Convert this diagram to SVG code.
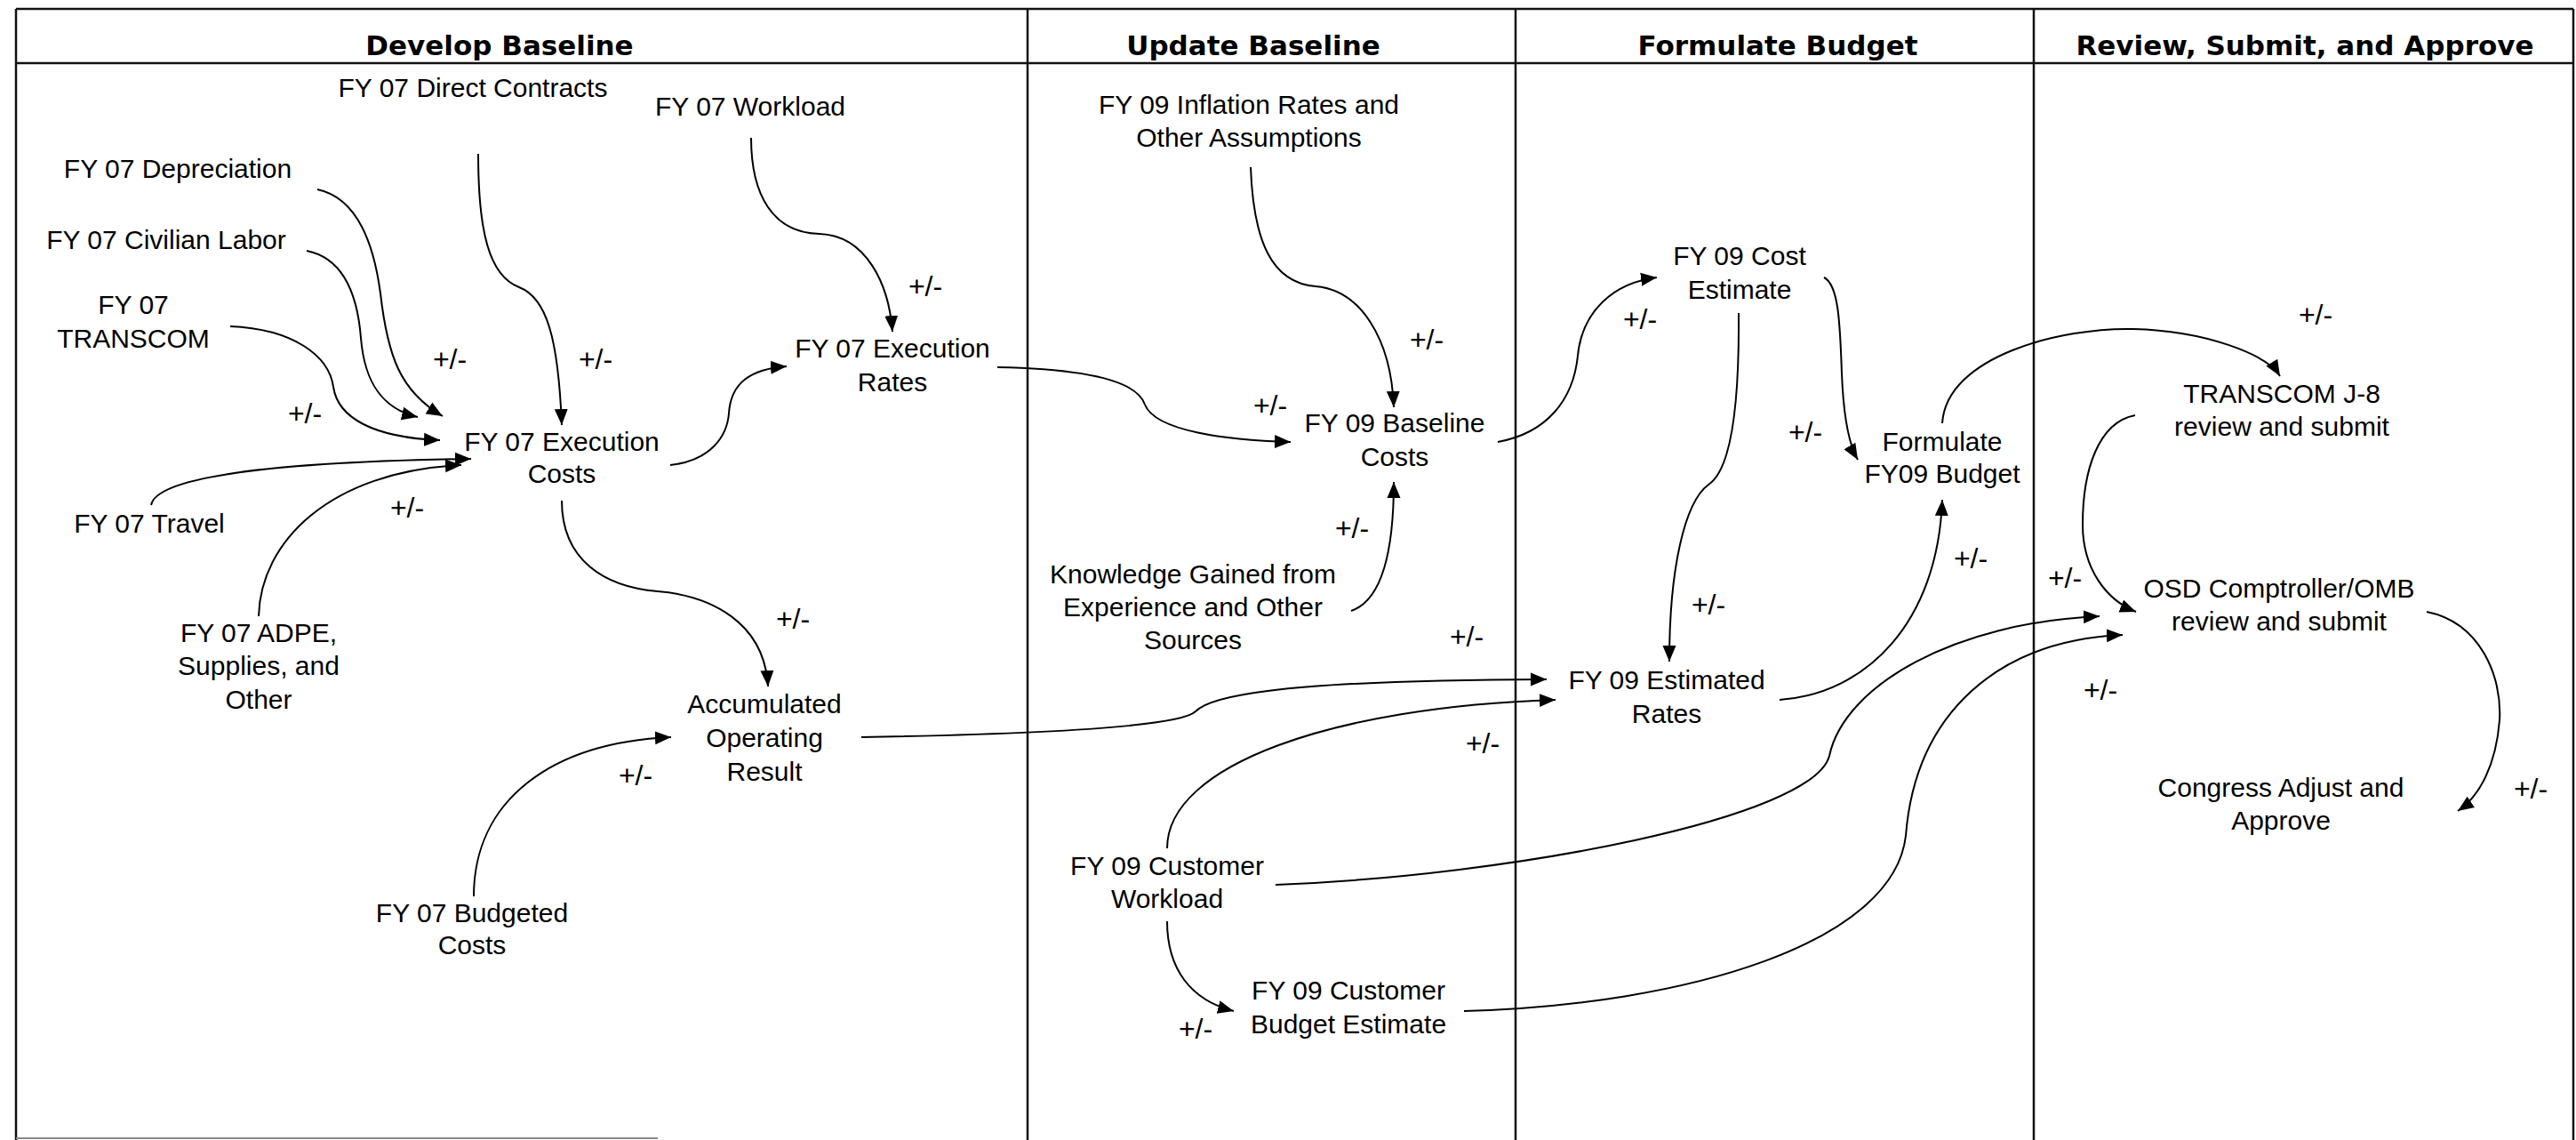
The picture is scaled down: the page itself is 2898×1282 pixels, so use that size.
<svg xmlns="http://www.w3.org/2000/svg" width="2898" height="1282" viewBox="0 0 2898 1282">
<style>
.t{font-family:"Liberation Sans",Arial,sans-serif;font-size:30px;fill:#000;text-anchor:middle}
.pm{font-family:"Liberation Sans",Arial,sans-serif;font-size:32px;fill:#000;text-anchor:middle}
.h{font-family:"DejaVu Sans",Verdana,sans-serif;font-weight:bold;font-size:31px;fill:#000;text-anchor:middle}
.f{stroke:#111;stroke-width:2.5;fill:none}
.c{fill:none;stroke:#000;stroke-width:2;marker-end:url(#ah)}
</style>
<defs>
<marker id="ah" markerUnits="userSpaceOnUse" markerWidth="20" markerHeight="16" refX="18" refY="8" orient="auto" viewBox="0 0 20 16">
<path d="M0,0.5 L18,8 L0,15.5 z" fill="#000"/>
</marker>
</defs>
<rect width="2898" height="1282" fill="#fff"/>
<g id="frame">
<line class="f" x1="18" y1="10" x2="2895" y2="10"/>
<line class="f" x1="18" y1="71" x2="2895" y2="71"/>
<line class="f" x1="18" y1="10" x2="18" y2="1282"/>
<line class="f" x1="1156" y1="10" x2="1156" y2="1282"/>
<line class="f" x1="1705" y1="10" x2="1705" y2="1282"/>
<line class="f" x1="2288" y1="10" x2="2288" y2="1282"/>
<line class="f" x1="2895" y1="10" x2="2895" y2="1282"/>
<line x1="18" y1="1280" x2="740" y2="1280" stroke="#888" stroke-width="2"/>
<text class="h" x="562" y="62">Develop Baseline</text>
<text class="h" x="1410" y="62">Update Baseline</text>
<text class="h" x="2000" y="62">Formulate Budget</text>
<text class="h" x="2593" y="62">Review, Submit, and Approve</text>
</g>
<g id="connectors">
<path class="c" d="M845,155 C845,220 870,262 922,263 C975,265 1000,320 1004,373"/>
<path class="c" d="M538,173 C538,260 550,310 584,323 C615,335 628,380 632,478"/>
<path class="c" d="M357,213 C400,222 420,270 428,330 C436,400 450,440 498,468"/>
<path class="c" d="M345,282 C385,290 402,330 406,380 C410,430 430,460 470,469"/>
<path class="c" d="M259,367 C330,370 370,400 375,435 C380,470 420,492 495,495"/>
<path class="c" d="M170,568 C175,540 280,520 530,516"/>
<path class="c" d="M291,693 C293,610 370,530 519,523"/>
<path class="c" d="M754,523 C800,518 818,490 820,465 C822,430 845,415 885,412"/>
<path class="c" d="M632,563 C632,630 680,660 740,665 C800,670 860,700 864,772"/>
<path class="c" d="M533,1008 C533,900 620,835 755,829"/>
<path class="c" d="M969,829 C1200,825 1330,815 1345,800 C1360,785 1420,765 1740,764"/>
<path class="c" d="M1313,954 C1313,860 1500,795 1750,787"/>
<path class="c" d="M1435,995 C1700,985 2040,920 2058,850 C2075,770 2200,700 2362,693"/>
<path class="c" d="M1647,1137 C1900,1130 2130,1060 2144,940 C2155,800 2250,720 2388,714"/>
<path class="c" d="M1313,1036 C1313,1090 1340,1125 1388,1137"/>
<path class="c" d="M1520,687 C1555,675 1568,620 1568,542"/>
<path class="c" d="M1407,188 C1410,270 1430,318 1480,322 C1530,326 1565,380 1568,458"/>
<path class="c" d="M1122,413 C1230,415 1280,430 1288,455 C1300,485 1380,495 1452,497"/>
<path class="c" d="M1685,497 C1740,487 1770,450 1775,400 C1780,350 1815,318 1864,312"/>
<path class="c" d="M1956,352 C1957,470 1945,530 1922,545 C1895,565 1878,640 1878,744"/>
<path class="c" d="M2052,312 C2068,320 2070,360 2072,420 C2074,470 2080,500 2090,517"/>
<path class="c" d="M2002,787 C2100,780 2180,700 2185,562"/>
<path class="c" d="M2185,476 C2190,400 2320,368 2400,370 C2480,372 2550,398 2565,423"/>
<path class="c" d="M2402,467 C2360,475 2343,530 2343,590 C2343,640 2370,675 2403,688"/>
<path class="c" d="M2730,688 C2790,700 2815,760 2812,810 C2808,860 2790,895 2765,912"/>
<text class="pm" x="1041" y="333">+/-</text>
<text class="pm" x="506" y="415">+/-</text>
<text class="pm" x="670" y="415">+/-</text>
<text class="pm" x="343" y="476">+/-</text>
<text class="pm" x="458" y="582">+/-</text>
<text class="pm" x="892" y="707">+/-</text>
<text class="pm" x="715" y="883">+/-</text>
<text class="pm" x="1605" y="393">+/-</text>
<text class="pm" x="1429" y="467">+/-</text>
<text class="pm" x="1521" y="605">+/-</text>
<text class="pm" x="1650" y="727">+/-</text>
<text class="pm" x="1668" y="847">+/-</text>
<text class="pm" x="1345" y="1168">+/-</text>
<text class="pm" x="1845" y="370">+/-</text>
<text class="pm" x="2031" y="497">+/-</text>
<text class="pm" x="1922" y="691">+/-</text>
<text class="pm" x="2217" y="639">+/-</text>
<text class="pm" x="2605" y="365">+/-</text>
<text class="pm" x="2323" y="661">+/-</text>
<text class="pm" x="2363" y="787">+/-</text>
<text class="pm" x="2847" y="898">+/-</text>
</g>
<g id="n-direct"><text class="t" x="532" y="109">FY 07 Direct Contracts</text></g>
<g id="n-workload"><text class="t" x="844" y="130">FY 07 Workload</text></g>
<g id="n-depreciation"><text class="t" x="200" y="200">FY 07 Depreciation</text></g>
<g id="n-civilian"><text class="t" x="187" y="280">FY 07 Civilian Labor</text></g>
<g id="n-transcom07"><text class="t" x="150" y="353">FY 07</text><text class="t" x="150" y="391">TRANSCOM</text></g>
<g id="n-execcosts"><text class="t" x="632" y="507">FY 07 Execution</text><text class="t" x="632" y="543">Costs</text></g>
<g id="n-travel"><text class="t" x="168" y="599">FY 07 Travel</text></g>
<g id="n-adpe"><text class="t" x="291" y="722">FY 07 ADPE,</text><text class="t" x="291" y="759">Supplies, and</text><text class="t" x="291" y="797">Other</text></g>
<g id="n-execrates"><text class="t" x="1004" y="402">FY 07 Execution</text><text class="t" x="1004" y="440">Rates</text></g>
<g id="n-accum"><text class="t" x="860" y="802">Accumulated</text><text class="t" x="860" y="840">Operating</text><text class="t" x="860" y="878">Result</text></g>
<g id="n-budgeted"><text class="t" x="531" y="1037">FY 07 Budgeted</text><text class="t" x="531" y="1073">Costs</text></g>
<g id="n-inflation"><text class="t" x="1405" y="128">FY 09 Inflation Rates and</text><text class="t" x="1405" y="165">Other Assumptions</text></g>
<g id="n-baseline"><text class="t" x="1569" y="486">FY 09 Baseline</text><text class="t" x="1569" y="524">Costs</text></g>
<g id="n-knowledge"><text class="t" x="1342" y="656">Knowledge Gained from</text><text class="t" x="1342" y="693">Experience and Other</text><text class="t" x="1342" y="730">Sources</text></g>
<g id="n-custworkload"><text class="t" x="1313" y="984">FY 09 Customer</text><text class="t" x="1313" y="1021">Workload</text></g>
<g id="n-custbudget"><text class="t" x="1517" y="1124">FY 09 Customer</text><text class="t" x="1517" y="1162">Budget Estimate</text></g>
<g id="n-costestimate"><text class="t" x="1957" y="298">FY 09 Cost</text><text class="t" x="1957" y="336">Estimate</text></g>
<g id="n-formulate"><text class="t" x="2185" y="507">Formulate</text><text class="t" x="2185" y="543">FY09 Budget</text></g>
<g id="n-estrates"><text class="t" x="1875" y="775">FY 09 Estimated</text><text class="t" x="1875" y="813">Rates</text></g>
<g id="n-j8"><text class="t" x="2567" y="453">TRANSCOM J-8</text><text class="t" x="2567" y="490">review and submit</text></g>
<g id="n-osd"><text class="t" x="2564" y="672">OSD Comptroller/OMB</text><text class="t" x="2564" y="709">review and submit</text></g>
<g id="n-congress"><text class="t" x="2566" y="896">Congress Adjust and</text><text class="t" x="2566" y="933">Approve</text></g>
</svg>
